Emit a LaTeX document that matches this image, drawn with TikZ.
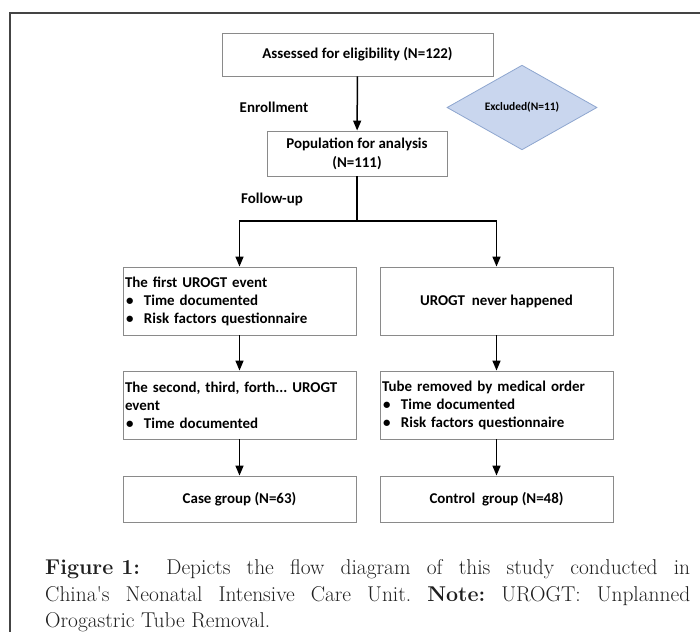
\documentclass[tikz,border=0pt]{standalone}
\usepackage{fontspec}
\newfontfamily\calfont{Carlito}
\usetikzlibrary{arrows.meta,shapes.geometric}
\definecolor{boxgray}{HTML}{8A8A8A}
\definecolor{framegray}{HTML}{444444}
\definecolor{dfill}{HTML}{C9D6EE}
\definecolor{ddraw}{HTML}{8EA6CF}
\newcommand\bul{\makebox[19bp][l]{\hspace{1bp}\textbullet}}
\begin{document}
\frenchspacing
\begin{tikzpicture}[x=1bp,y=-1bp,
  txt/.style={font=\calfont\bfseries\fontsize{15}{18}\selectfont, text=black},
  fbox/.style={txt, draw=boxgray, line width=0.9bp, inner sep=0pt},
  lbox/.style={fbox, text width=229bp, inner xsep=2bp, align=left},
  arr/.style={line width=1.5bp, -{Triangle[length=10bp,width=8bp]}},
  plain/.style={line width=1.5bp},
  capt/.style={font=\fontsize{21.5}{26.7}\selectfont, inner sep=0pt, anchor=base west, text=black!88}]
\useasboundingbox (0,0) rectangle (700,632);
\draw[framegray, line width=1.4bp] (10,632) -- (10,13) -- (700,13);

\node[fbox, minimum width=271bp, minimum height=43bp] (top) at (357.5,54.5) {Assessed for eligibility (N=122)};
\node[txt] (enr) at (274,107) {Enrollment};
\node[diamond, draw=ddraw, fill=dfill, line width=0.8bp, minimum width=150bp, minimum height=45bp, inner sep=0pt,
      font=\calfont\bfseries\fontsize{11.5}{13}\selectfont] (exc) at (522,107.5) {Excluded(N=11)};
\node[fbox, minimum width=180bp, minimum height=45bp, align=center] (pop) at (357,153.5) {Population for analysis\\[1bp](N=111)};
\node[txt] (fol) at (272,199) {Follow-up};
\coordinate (split) at (357,221);

\node[lbox, minimum height=68bp] (l1) at (239.5,301) {The first UROGT event\\ \bul Time documented\\ \bul Risk factors questionnaire};
\node[fbox, minimum width=233bp, minimum height=68bp] (r1) at (496.5,301) {UROGT~ never happened};
\node[lbox, minimum height=68bp] (l2) at (239.5,405) {The second, third, forth... UROGT\\ event\\ \bul Time documented};
\node[lbox, minimum height=68bp] (r2) at (496.5,405) {Tube removed by medical order\\ \bul Time documented\\ \bul Risk factors questionnaire};
\node[fbox, minimum width=233bp, minimum height=46bp] (l3) at (239.5,499) {Case group (N=63)};
\node[fbox, minimum width=233bp, minimum height=46bp] (r3) at (496.5,499) {Control~ group (N=48)};

\draw[arr] (top) -- (pop);
\draw[plain] (pop) -- (split);
\draw[arr] (split) -| (l1.north);
\draw[arr] (split) -| (r1.north);
\draw[arr] (l1) -- (l2);
\draw[arr] (r1) -- (r2);
\draw[arr] (l2) -- (l3);
\draw[arr] (r2) -- (r3);

\node[capt] (cap1) at (45,574) {\hbox to 645bp{\mbox{\textbf{Figure 1:}}\hspace{10bp} Depicts the flow diagram of this study conducted in}};
\node[capt] (cap2) at (45,601) {\hbox to 645bp{China\textquotesingle s Neonatal Intensive Care Unit. \textbf{Note:} UROGT: Unplanned}};
\node[capt] (cap3) at (45,627) {Orogastric Tube Removal.};
\end{tikzpicture}
\end{document}
